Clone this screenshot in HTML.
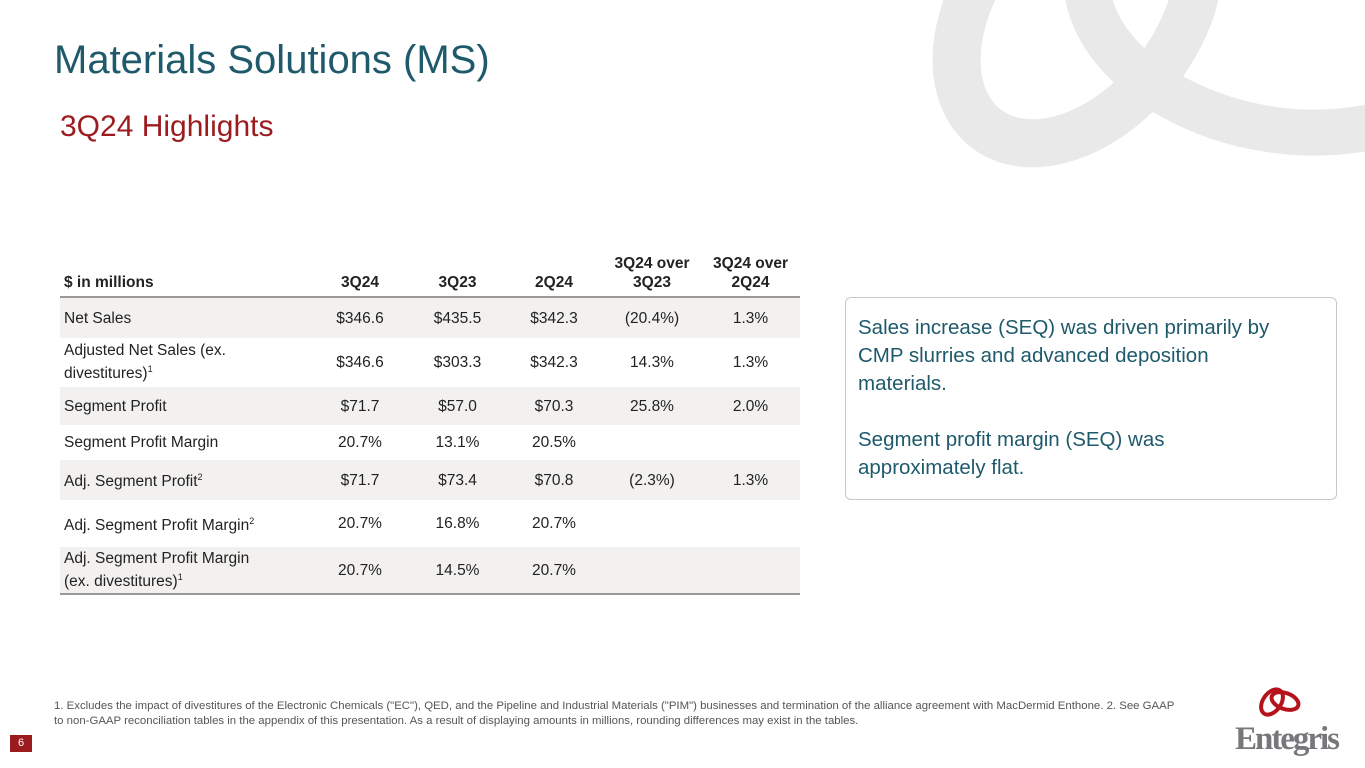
<!DOCTYPE html>
<html><head><meta charset="utf-8">
<style>
body{margin:0;width:1365px;height:768px;overflow:hidden;background:#fff;font-family:"Liberation Sans",sans-serif;position:relative}
.abs{position:absolute}
table{border-collapse:collapse;position:absolute;left:60px;top:240px;width:740px;font-size:15.5px;color:#222}
td,th{padding:0 4px;text-align:center;line-height:19px}
td:first-child,th:first-child{text-align:left;padding-left:4px}
th{font-weight:bold;vertical-align:bottom;padding-bottom:4px}
tr.s td{background:#f2f1f0}
sup{font-size:9px}
</style></head><body>
<svg class="abs" style="left:0;top:0" width="1365" height="200">
<ellipse cx="1078" cy="10" rx="100" ry="150" transform="rotate(38 1078 10)" fill="none" stroke="#e9e9e9" stroke-width="48"/>
<ellipse cx="1285" cy="0" rx="200" ry="130" transform="rotate(10 1285 0)" fill="none" stroke="#e9e9e9" stroke-width="46"/>
</svg>
<div class="abs" style="left:54px;top:38px;font-size:40px;color:#1e5a6b">Materials Solutions (MS)</div>
<div class="abs" style="left:60px;top:110px;font-size:30px;color:#9b1b1f">3Q24 Highlights</div>
<table>
<colgroup><col style="width:250px"><col style="width:100px"><col style="width:95px"><col style="width:98px"><col style="width:98px"><col style="width:99px"></colgroup>
<tr style="height:57px;border-bottom:2px solid #999"><th>$ in millions</th><th>3Q24</th><th>3Q23</th><th>2Q24</th><th>3Q24 over<br>3Q23</th><th>3Q24 over<br>2Q24</th></tr>
<tr class="s" style="height:41px"><td>Net Sales</td><td>$346.6</td><td>$435.5</td><td>$342.3</td><td>(20.4%)</td><td>1.3%</td></tr>
<tr style="height:49px"><td>Adjusted Net Sales (ex.<br>divestitures)<sup>1</sup></td><td>$346.6</td><td>$303.3</td><td>$342.3</td><td>14.3%</td><td>1.3%</td></tr>
<tr class="s" style="height:38px"><td>Segment Profit</td><td>$71.7</td><td>$57.0</td><td>$70.3</td><td>25.8%</td><td>2.0%</td></tr>
<tr style="height:35px"><td>Segment Profit Margin</td><td>20.7%</td><td>13.1%</td><td>20.5%</td><td></td><td></td></tr>
<tr class="s" style="height:40px"><td>Adj. Segment Profit<sup>2</sup></td><td>$71.7</td><td>$73.4</td><td>$70.8</td><td>(2.3%)</td><td>1.3%</td></tr>
<tr style="height:47px"><td>Adj. Segment Profit Margin<sup>2</sup></td><td>20.7%</td><td>16.8%</td><td>20.7%</td><td></td><td></td></tr>
<tr class="s" style="height:47px;border-bottom:2px solid #999"><td>Adj. Segment Profit Margin<br>(ex. divestitures)<sup>1</sup></td><td>20.7%</td><td>14.5%</td><td>20.7%</td><td></td><td></td></tr>
</table>
<div class="abs" style="left:845px;top:297px;width:466px;height:172px;border:1px solid #c8c8c8;border-radius:6px;padding:16px 12px 13px;font-size:20.5px;line-height:28px;color:#1e5a6b;white-space:nowrap">Sales increase (SEQ) was driven primarily by<br>CMP slurries and advanced deposition<br>materials.<br><br>Segment profit margin (SEQ) was<br>approximately flat.</div>
<div class="abs" style="left:54px;top:699px;width:1170px;font-size:11.4px;line-height:15px;color:#555;white-space:nowrap">1. Excludes the impact of divestitures of the Electronic Chemicals ("EC"), QED, and the Pipeline and Industrial Materials ("PIM") businesses and termination of the alliance agreement with MacDermid Enthone. 2. See GAAP<br>to non-GAAP reconciliation tables in the appendix of this presentation. As a result of displaying amounts in millions, rounding differences may exist in the tables.</div>
<div class="abs" style="left:10px;top:735px;width:22px;height:17px;background:#9b1b1f;color:#fff;font-size:11px;text-align:center;line-height:17px">6</div>
<svg class="abs" style="left:1230px;top:685px" width="120" height="80">
<ellipse cx="42" cy="17" rx="9" ry="14" transform="rotate(35 42 17)" fill="none" stroke="#b5121b" stroke-width="4"/>
<ellipse cx="55" cy="16" rx="14" ry="8" transform="rotate(20 55 16)" fill="none" stroke="#b5121b" stroke-width="4"/>
<text x="5" y="64" font-family="Liberation Serif,serif" font-size="33" font-weight="bold" fill="#77787b" textLength="105">Entegris</text>
</svg>
</body></html>
